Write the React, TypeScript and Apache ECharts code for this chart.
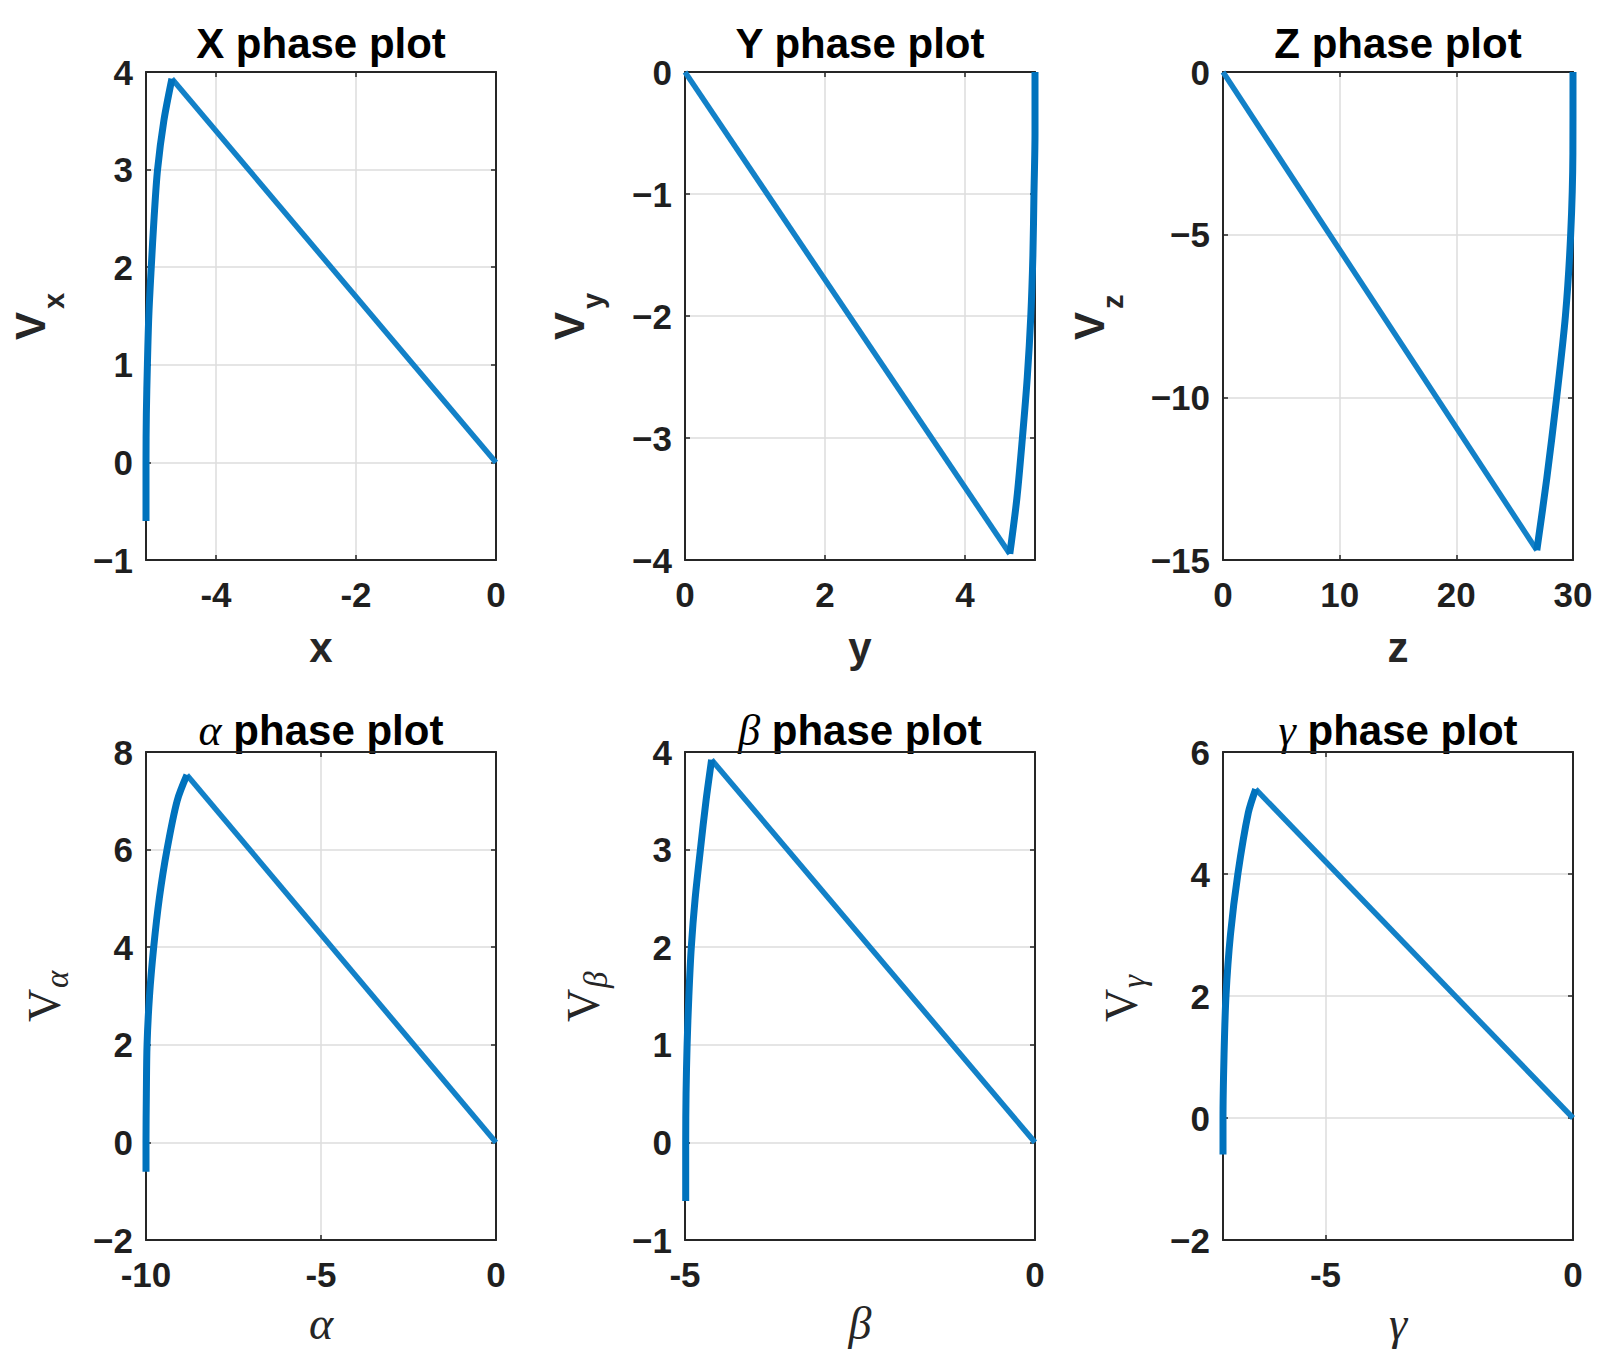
import React, { useEffect, useRef } from "react";
import * as echarts from "echarts";

type Pt = [number, number];

// ---------------- data ----------------
const xCurve: Pt[] = [[-5.0, -0.6], [-5.0, 0], [-4.995, 0.5], [-4.98, 1], [-4.96, 1.5], [-4.925, 2], [-4.885, 2.5], [-4.835, 3], [-4.745, 3.5], [-4.63, 3.93]];
const xLine: Pt[] = [[-4.63, 3.93], [0, 0]];

const yCurve: Pt[] = [[5, 0], [5, -0.5], [4.985, -1], [4.97, -1.5], [4.94, -2], [4.89, -2.5], [4.82, -3], [4.74, -3.5], [4.64, -3.95]];
const yLine: Pt[] = [[4.64, -3.95], [0, 0]];

const zCurve: Pt[] = [[30, 0], [29.99, -2.5], [29.8, -5], [29.35, -7.5], [28.6, -10], [27.75, -12.5], [26.9, -14.7]];
const zLine: Pt[] = [[26.9, -14.7], [0, 0]];

const aCurve: Pt[] = [[-10, -0.6], [-10, 0], [-9.99, 1], [-9.97, 2], [-9.9, 3], [-9.78, 4], [-9.62, 5], [-9.4, 6], [-9.11, 7], [-8.83, 7.53]];
const aLine: Pt[] = [[-8.83, 7.53], [0, 0]];

const bCurve: Pt[] = [[-4.99, -0.6], [-4.99, 0], [-4.985, 0.5], [-4.97, 1], [-4.945, 1.5], [-4.91, 2], [-4.855, 2.5], [-4.78, 3], [-4.7, 3.5], [-4.62, 3.92]];
const bLine: Pt[] = [[-4.62, 3.92], [0, 0]];

const gCurve: Pt[] = [[-7.07, -0.6], [-7.07, 0], [-7.05, 1], [-7.01, 2], [-6.92, 3], [-6.77, 4], [-6.56, 5], [-6.41, 5.39]];
const gLine: Pt[] = [[-6.41, 5.39], [0, 0]];

const xTicksX = [-4, -2, 0];
const yTicksX = [-1, 0, 1, 2, 3, 4];
const xTicksY = [0, 2, 4];
const yTicksY = [-4, -3, -2, -1, 0];
const xTicksZ = [0, 10, 20, 30];
const yTicksZ = [-15, -10, -5, 0];
const xTicksA = [-10, -5, 0];
const yTicksA = [-2, 0, 2, 4, 6, 8];
const xTicksB = [-5, 0];
const yTicksB = [-1, 0, 1, 2, 3, 4];
const xTicksG = [-5, 0];
const yTicksG = [-2, 0, 2, 4, 6];

const panels = [
  { name: "X", greek: false, xLabel: "x", sub: "x", xMin: -5, xMax: 0, yMin: -1, yMax: 4, xTicks: xTicksX, yTicks: yTicksX, curve: xCurve, line: xLine },
  { name: "Y", greek: false, xLabel: "y", sub: "y", xMin: 0, xMax: 5, yMin: -4, yMax: 0, xTicks: xTicksY, yTicks: yTicksY, curve: yCurve, line: yLine },
  { name: "Z", greek: false, xLabel: "z", sub: "z", xMin: 0, xMax: 30, yMin: -15, yMax: 0, xTicks: xTicksZ, yTicks: yTicksZ, curve: zCurve, line: zLine },
  { name: "α", greek: true, xLabel: "α", sub: "α", xMin: -10, xMax: 0, yMin: -2, yMax: 8, xTicks: xTicksA, yTicks: yTicksA, curve: aCurve, line: aLine },
  { name: "β", greek: true, xLabel: "β", sub: "β", xMin: -5, xMax: 0, yMin: -1, yMax: 4, xTicks: xTicksB, yTicks: yTicksB, curve: bCurve, line: bLine },
  { name: "γ", greek: true, xLabel: "γ", sub: "γ", xMin: -7.07, xMax: 0, yMin: -2, yMax: 6, xTicks: xTicksG, yTicks: yTicksG, curve: gCurve, line: gLine },
];

// ---------------- layout & style ----------------
const colLeft = [146, 685, 1223];
const rowTop = [72, 752];
const PW = 350;
const PH = 488;
const titleY = [43, 730];
const xNameY = [647, 1323];
const yNameOffset = [[-116, -116, -134], [-102, -102, -102]];

const SANS = "'Liberation Sans', Arial, Helvetica, sans-serif";
const SERIF = "'Liberation Serif', 'Times New Roman', serif";
const AX = "#262626";
const BLUE = "#0072BD";
const BLUE_LINE = "#1281c8";

const axisLineStyle = { color: AX, width: 2 };
const tickStyle = { color: AX, width: 1.5 };
const labelStyle = { fontSize: 35, fontWeight: "bold" as const, fontFamily: SANS, color: "#1f1f1f" };

function fmtX(v: number) {
  return String(v);
}
function fmtY(v: number) {
  return v < 0 ? "\u2212" + String(-v) : String(v);
}

function buildOption() {
  const grid: any[] = [];
  const xAxis: any[] = [];
  const yAxis: any[] = [];
  const series: any[] = [];
  const graphic: any[] = [];

  panels.forEach((p, i) => {
    const col = i % 3;
    const row = Math.floor(i / 3);
    const left = colLeft[col];
    const top = rowTop[row];
    grid.push({ left, top, width: PW, height: PH, outerBoundsMode: "none", containLabel: false });

    xAxis.push({
      gridIndex: i, type: "value", position: "bottom", min: p.xMin, max: p.xMax,
      axisLine: { show: true, onZero: false, lineStyle: axisLineStyle },
      axisTick: { show: true, inside: true, length: 5, customValues: p.xTicks, lineStyle: tickStyle },
      axisLabel: { show: true, customValues: p.xTicks, formatter: fmtX, margin: 17, ...labelStyle },
      splitLine: { show: true, lineStyle: { color: "#dcdcdc", width: 1.5 } },
    });
    xAxis.push({
      gridIndex: i, type: "value", position: "top", min: p.xMin, max: p.xMax,
      axisLine: { show: true, onZero: false, lineStyle: axisLineStyle },
      axisTick: { show: true, inside: true, length: 5, customValues: p.xTicks, lineStyle: tickStyle },
      axisLabel: { show: false },
      splitLine: { show: false },
    });
    yAxis.push({
      gridIndex: i, type: "value", position: "left", min: p.yMin, max: p.yMax,
      axisLine: { show: true, onZero: false, lineStyle: axisLineStyle },
      axisTick: { show: true, inside: true, length: 5, customValues: p.yTicks, lineStyle: tickStyle },
      axisLabel: { show: true, customValues: p.yTicks, formatter: fmtY, margin: 13, ...labelStyle },
      splitLine: { show: true, lineStyle: { color: "#dcdcdc", width: 1.5 } },
    });
    yAxis.push({
      gridIndex: i, type: "value", position: "right", min: p.yMin, max: p.yMax,
      axisLine: { show: true, onZero: false, lineStyle: axisLineStyle },
      axisTick: { show: true, inside: true, length: 5, customValues: p.yTicks, lineStyle: tickStyle },
      axisLabel: { show: false },
      splitLine: { show: false },
    });

    series.push({
      type: "line", xAxisIndex: 2 * i, yAxisIndex: 2 * i, data: p.line,
      symbol: "none", showSymbol: false, clip: false, silent: true, z: 3,
      lineStyle: { color: BLUE_LINE, width: 5.5, cap: "butt", join: "round" },
    });
    series.push({
      type: "line", xAxisIndex: 2 * i, yAxisIndex: 2 * i, data: p.curve,
      symbol: "none", showSymbol: false, clip: false, silent: true, z: 4,
      smooth: 0.3,
      lineStyle: { color: BLUE, width: 7, cap: "butt", join: "round" },
    });

    const cx = left + PW / 2;
    const cy = top + PH / 2;

    // title
    if (p.greek) {
      graphic.push({
        type: "text", x: cx, y: titleY[row], silent: true,
        style: {
          text: "{g|" + p.name + "}{b| phase plot}",
          align: "center", verticalAlign: "middle",
          fill: "#000",
          rich: {
            g: { fontFamily: SERIF, fontStyle: "italic", fontWeight: "normal", fontSize: 44, fill: "#000" },
            b: { fontFamily: SANS, fontWeight: "bold", fontSize: 42, fill: "#000" },
          },
        },
      });
    } else {
      graphic.push({
        type: "text", x: cx, y: titleY[row], silent: true,
        style: {
          text: p.name + " phase plot", align: "center", verticalAlign: "middle",
          fontFamily: SANS, fontWeight: "bold", fontSize: 42, fill: "#000",
        },
      });
    }

    // x label
    graphic.push({
      type: "text", x: cx, y: xNameY[row], silent: true,
      style: p.greek
        ? { text: p.xLabel, align: "center", verticalAlign: "middle", fontFamily: SERIF, fontStyle: "italic", fontSize: 46, fill: AX }
        : { text: p.xLabel, align: "center", verticalAlign: "middle", fontFamily: SANS, fontWeight: "bold", fontSize: 42, fill: AX },
    });

    // y label (rotated, with subscript)
    const vx = left + yNameOffset[row][col];
    const children = p.greek
      ? [
          { type: "text", x: -26, y: 0, style: { text: "V", align: "left", verticalAlign: "middle", fontFamily: SERIF, fontSize: 46, fill: AX } },
          { type: "text", x: 8, y: 13, style: { text: p.sub, align: "left", verticalAlign: "middle", fontFamily: SERIF, fontStyle: "italic", fontSize: 33, fill: AX } },
        ]
      : [
          { type: "text", x: -24, y: 0, style: { text: "V", align: "left", verticalAlign: "middle", fontFamily: SANS, fontWeight: "bold", fontSize: 42, fill: AX } },
          { type: "text", x: 7, y: 24, style: { text: p.sub, align: "left", verticalAlign: "middle", fontFamily: SANS, fontWeight: "bold", fontSize: 29, fill: AX } },
        ];
    graphic.push({ type: "group", x: vx, y: cy, rotation: Math.PI / 2, silent: true, children });
  });

  return {
    animation: false,
    backgroundColor: "#ffffff",
    grid,
    xAxis,
    yAxis,
    series,
    graphic: { elements: graphic },
  };
}

export default function App() {
  const ref = useRef<HTMLDivElement | null>(null);
  useEffect(() => {
    if (!ref.current) return;
    const chart = echarts.init(ref.current, null, { renderer: "svg", width: 1610, height: 1365 });
    chart.setOption(buildOption() as any);
    return () => chart.dispose();
  }, []);
  return (
    <div
      ref={ref}
      style={{ position: "absolute", left: 0, top: 0, width: 1610, height: 1365, background: "#fff" }}
    />
  );
}
